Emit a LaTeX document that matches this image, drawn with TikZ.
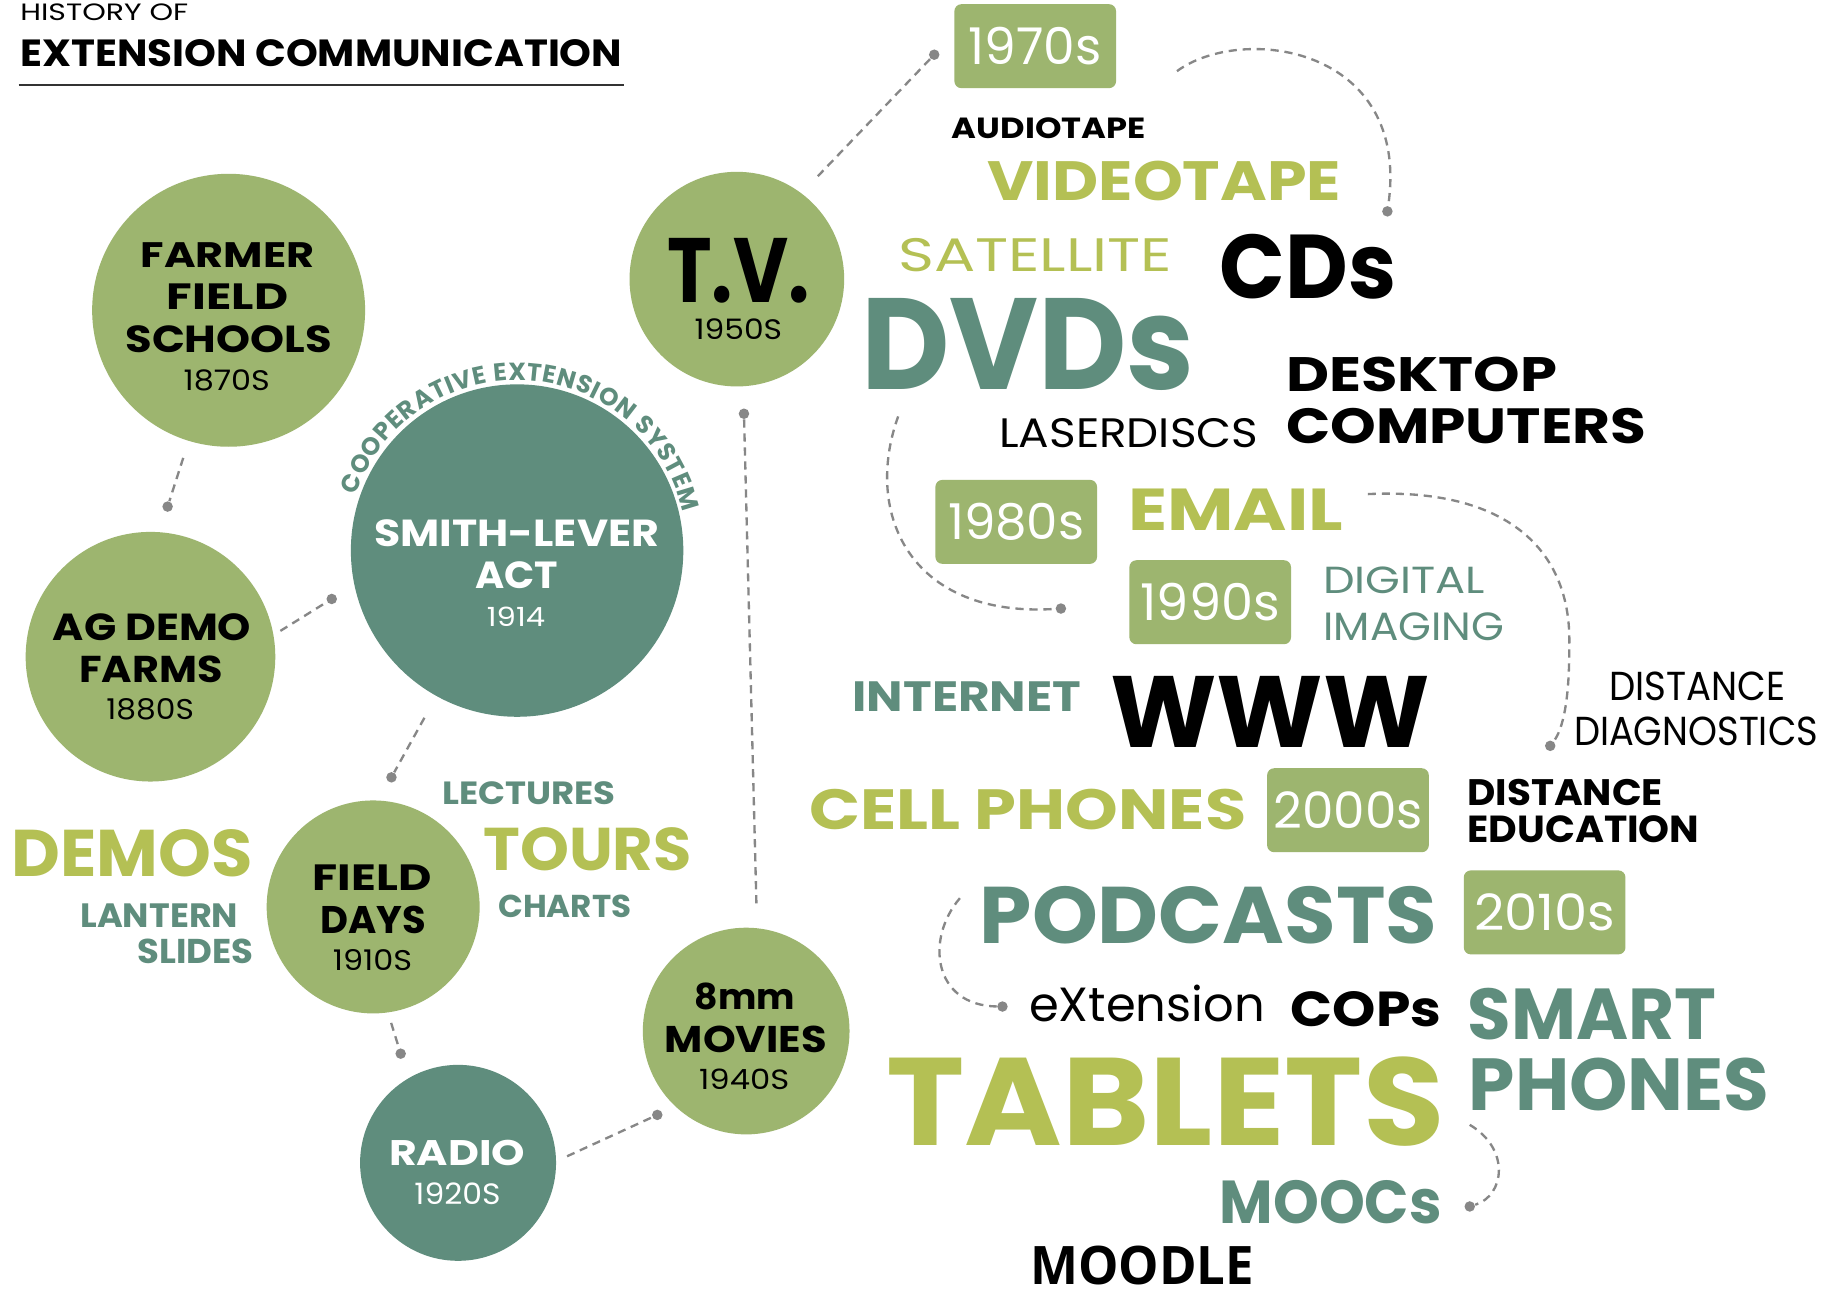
\documentclass[tikz,border=0pt]{standalone}
\usepackage{fontspec}
\setmainfont{Poppins}
\newfontfamily\moodlefont{Open Sans}
\usepackage{graphicx}
\usetikzlibrary{decorations.text}
\newdimen\pxd \pxd=0.5pt
\def\fitto#1#2#3{\resizebox{#1\pxd}{#2\pxd}{#3}}
\definecolor{leaf}{RGB}{157,181,111}
\definecolor{sea}{RGB}{95,141,125}
\definecolor{grass}{RGB}{180,192,84}
\definecolor{dotgray}{RGB}{135,135,135}
\tikzset{
	bubble/.style={circle, fill=leaf, inner sep=0pt},
	deep/.style={circle, fill=sea, inner sep=0pt},
	yearbox/.style={rectangle, rounded corners=3pt, fill=leaf, text=white, minimum width=69.3pt, minimum height=36pt, inner sep=0pt},
	inkword/.style={inner sep=0pt, text=black, font=\bfseries},
	grassword/.style={inner sep=0pt, text=grass, font=\bfseries},
	seaword/.style={inner sep=0pt, text=sea, font=\bfseries},
	lightword/.style={inner sep=0pt, font=\mdseries},
	link/.style={draw=dotgray, line width=1pt, dash pattern=on 3.5pt off 2.5pt},
	knob/.style={circle, fill=dotgray, inner sep=0pt, minimum size=4.5pt}
}

\begin{document}
\begin{tikzpicture}[x=0.5pt, y=-0.5pt]
			%%%%% START %%%%%
			
			\path[fill=white, use as bounding box] (0,0) rectangle (1568,1106.8);
			
			\node[lightword, anchor=west] (hist) at (17,10.6) {\fitto{144}{14.3}{HISTORY OF}};
			\node[inkword, anchor=west] (title) at (17,45.3) {\fitto{516}{23.1}{EXTENSION COMMUNICATION}};
			\draw[line width=1.2pt, color=black!80] (16,72.8) -- (535,72.8);
			
			\node[bubble, minimum size=117pt] (ffs) at (196,266) {};
			\node[bubble, minimum size=107pt] (agd) at (129,563) {};
			\node[deep, minimum size=142.5pt] (smith) at (443.3,472) {};
			\node[bubble, minimum size=92pt] (tv) at (631.7,239.3) {};
			\node[bubble, minimum size=91.3pt] (fdays) at (319.9,777.5) {};
			\node[deep, minimum size=84pt] (radio) at (392.7,996.9) {};
			\node[bubble, minimum size=88.6pt] (movies) at (639.7,883.9) {};
			
			\node[inkword] (ffs1) at (195,218.5) {\fitto{149}{21.3}{FARMER}};
			\node[inkword] (ffs2) at (195,254.6) {\fitto{104}{22}{FIELD}};
			\node[inkword] (ffs3) at (196,290.5) {\fitto{177}{23}{SCHOOLS}};
			\node[lightword] (ffs4) at (194.4,326) {\fitto{74}{17.8}{1870S}};
			
			\node[inkword] (agd1) at (130.4,537.5) {\fitto{170}{23}{AG DEMO}};
			\node[inkword] (agd2) at (129.5,573.8) {\fitto{123}{22.8}{FARMS}};
			\node[lightword] (agd3) at (128.7,608) {\fitto{75}{18}{1880S}};
			
			\node[inkword, text=white] (smith1) at (443,457.5) {\fitto{244}{23}{SMITH-LEVER}};
			\node[inkword, text=white] (smith2) at (443,493) {\fitto{71}{23}{ACT}};
			\node[lightword, text=white] (smith3) at (442.4,529) {\fitto{50}{16.7}{1914}};
			\path[decorate, decoration={text along path, text align={fit to path}, text color=sea, text={|\bfseries\fontsize{10.6}{12}\selectfont|COOPERATIVE EXTENSION SYSTEM}}] (smith.center) ++(-161:146) arc (-161:-13:146);
			
			\node[inkword] (tv1) at (632.9,231.9) {\fitto{122}{55}{T.V.}};
			\node[lightword] (tv2) at (633,282.5) {\fitto{75}{17.8}{1950S}};
			
			\node[inkword] (fdays1) at (319,752.8) {\fitto{101.8}{22}{FIELD}};
			\node[inkword] (fdays2) at (320,788.9) {\fitto{90.6}{23.5}{DAYS}};
			\node[lightword] (fdays3) at (319.4,823.4) {\fitto{68}{18}{1910S}};
			
			\node[inkword, text=white] (radio1) at (392,988.5) {\fitto{116.6}{21.7}{RADIO}};
			\node[lightword, text=white] (radio2) at (392.2,1023.7) {\fitto{73.8}{18.6}{1920S}};
			
			\node[inkword] (movies1) at (638.6,854) {\fitto{86}{22.8}{8mm}};
			\node[inkword] (movies2) at (639.3,890.9) {\fitto{138.8}{22.7}{MOVIES}};
			\node[lightword] (movies3) at (638,925) {\fitto{77.3}{17.6}{1940S}};
			
			\node[seaword] (lectures) at (453.3,679.7) {\fitto{148.6}{19.6}{LECTURES}};
			\node[grassword] (demos) at (113.2,731.5) {\fitto{206.7}{40.3}{DEMOS}};
			\node[grassword] (tours) at (503.7,728) {\fitto{178.6}{36.8}{TOURS}};
			\node[seaword] (charts) at (484.3,777) {\fitto{114}{19.3}{CHARTS}};
			\node[seaword] (lantern) at (136.6,785.2) {\fitto{135.3}{20.3}{LANTERN}};
			\node[seaword] (slides) at (167.8,815.7) {\fitto{99.4}{21}{SLIDES}};
			
			\node[yearbox] (y70) at (887.5,39.6) {\fitto{114}{32}{1970s}};
			\node[yearbox] (y80) at (871.2,447.4) {\fitto{116.8}{31.2}{1980s}};
			\node[yearbox] (y90) at (1037.5,516.3) {\fitto{119.3}{32}{1990s}};
			\node[yearbox] (y00) at (1155.6,694.6) {\fitto{128}{31.6}{2000s}};
			\node[yearbox] (y10) at (1324.2,782.2) {\fitto{120.9}{31.6}{2010s}};
			
			\node[inkword] (audio) at (899.1,110.2) {\fitto{166}{17.8}{AUDIOTAPE}};
			\node[grassword] (video) at (998.2,155.5) {\fitto{303.2}{33.8}{VIDEOTAPE}};
			\node[lightword, text=grass] (sat) at (887.5,218.5) {\fitto{235}{28.4}{SATELLITE}};
			\node[inkword] (cds) at (1121.3,228.3) {\fitto{151.4}{55.1}{CDs}};
			\node[seaword] (dvds) at (881.2,295) {\fitto{286}{78.1}{DVDs}};
			\node[inkword] (desk) at (1218.8,321) {\fitto{232.6}{29.5}{DESKTOP}};
			\node[inkword] (comp) at (1256.9,365.1) {\fitto{308.8}{30.2}{COMPUTERS}};
			\node[lightword] (laser) at (967.7,371.4) {\fitto{222}{24.9}{LASERDISCS}};
			\node[grassword] (email) at (1059.2,437.1) {\fitto{184.3}{35.6}{EMAIL}};
			\node[lightword, text=sea] (dig1) at (1203.9,497.5) {\fitto{138.7}{22.8}{DIGITAL}};
			\node[lightword, text=sea] (dig2) at (1212,537.1) {\fitto{154.9}{23.8}{IMAGING}};
			\node[seaword] (inet) at (829,597.1) {\fitto{196}{25.5}{INTERNET}};
			\node[inkword] (www) at (1089,610.5) {\fitto{274}{61}{WWW}};
			\node[lightword] (diag1) at (1455.3,588.7) {\fitto{150.9}{24.5}{DISTANCE}};
			\node[lightword] (diag2) at (1454,627.2) {\fitto{209.2}{24.5}{DIAGNOSTICS}};
			\node[grassword] (cell) at (881.2,694.3) {\fitto{374.6}{34.6}{CELL PHONES}};
			\node[inkword] (edu1) at (1341.8,679.4) {\fitto{167.6}{22.5}{DISTANCE}};
			\node[inkword] (edu2) at (1357.5,711.3) {\fitto{199}{23}{EDUCATION}};
			\node[seaword] (pod) at (1036,785) {\fitto{392}{49}{PODCASTS}};
			\node[lightword] (ext) at (983.3,860) {\resizebox{202\pxd}{!}{eXtension}};
			\node[inkword] (cops) at (1171,865) {\fitto{129}{30}{COPs}};
			\node[seaword] (smart1) at (1365,869.3) {\fitto{213}{44}{SMART}};
			\node[seaword] (smart2) at (1388,930) {\fitto{257.7}{45}{PHONES}};
			\node[grassword] (tablets) at (999.3,944.3) {\fitto{478.6}{76}{TABLETS}};
			\node[seaword] (moocs) at (1140.9,1031) {\fitto{190.4}{37}{MOOCs}};
			\node[inkword, font=\moodlefont\bfseries] (moodle) at (979.1,1085) {\fitto{192}{33}{MOODLE}};
			
			\node[knob] (d1) at (143.7,434.3) {};
			\node[knob] (d2) at (284.4,513.5) {};
			\node[knob] (d3) at (335.6,666.4) {};
			\node[knob] (d4) at (343.5,903.3) {};
			\node[knob] (d5) at (563.5,955.8) {};
			\node[knob] (d6) at (637.8,354.7) {};
			\node[knob] (d7) at (800.9,46.9) {};
			\node[knob] (d8) at (1189.4,181.2) {};
			\node[knob] (d9) at (1329,639.4) {};
			\node[knob] (d10) at (859.4,862.9) {};
			\node[knob] (d11) at (1260,1034.3) {};
			\node[knob] (d12) at (909.5,521.7) {};
			
			\draw[link, shorten <=7.5pt] (ffs.253.5) -- (d1);
			\draw[link, shorten <=3.3pt] (agd.10) -- (d2);
			\draw[link, shorten <=10.5pt] (smith.241.6) -- (d3);
			\draw[link, shorten <=4.5pt] (fdays.278.4) -- (d4);
			\draw[link, shorten <=5pt] (radio.1) -- (d5);
			\draw[link, shorten <=10.5pt] (movies.84.3) -- (d6);
			\draw[link, shorten <=10pt] (tv.53.7) -- (d7);
			
			\coordinate (c1) at (1009,61);
			\coordinate (c2) at (770,357);
			\coordinate (c3) at (1172.6,423.6);
			\coordinate (c4) at (822.9,770);
			\coordinate (c5) at (1260,964.3);
			\draw[link] (c1) .. controls (1065,20) and (1210,40) .. (d8);
			\draw[link] (c2) .. controls (740,440) and (780,530) .. (d12);
			\draw[link] (c3) .. controls (1290,418) and (1348,470) .. (1345.3,554.4) .. controls (1345.5,600) and (1340,625) .. (d9);
			\draw[link] (c4) .. controls (793,805) and (800,862) .. (d10);
			\draw[link] (c5) .. controls (1295,985) and (1290,1025) .. (d11);
			
			%%%%% END %%%%%
\end{tikzpicture}
\end{document}
